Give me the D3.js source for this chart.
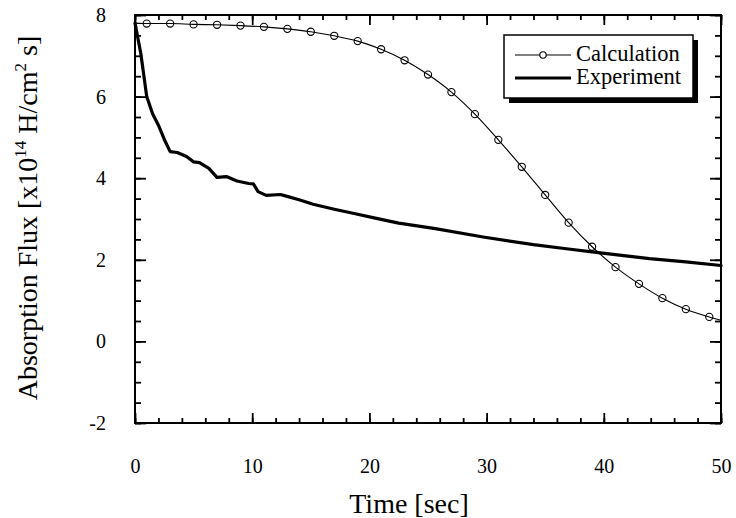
<!DOCTYPE html>
<html>
<head>
<meta charset="utf-8">
<script src="https://cdn.jsdelivr.net/npm/d3@7"></script>
<style>
  html, body { margin: 0; padding: 0; background: #fff; }
  svg text { font-family: "Liberation Serif", "Times New Roman", Times, "DejaVu Serif", "Noto Serif", serif !important; }
</style>
</head>
<body>
<svg id="chart" width="736" height="518"></svg>
<script>
// ---- data ----
const calcTime  = [0, 1, 3, 5, 7, 9, 11, 13, 15, 17, 19, 21, 23, 25, 27, 29, 31, 33, 35, 37, 39, 41, 43, 45, 47, 49, 50];
const calcValue = [7.80, 7.79, 7.79, 7.77, 7.76, 7.74, 7.71, 7.66, 7.59, 7.49, 7.36, 7.16, 6.89, 6.54, 6.11, 5.57, 4.94, 4.28, 3.59, 2.91, 2.32, 1.82, 1.41, 1.06, 0.79, 0.60, 0.52];
const markerTime = [1, 3, 5, 7, 9, 11, 13, 15, 17, 19, 21, 23, 25, 27, 29, 31, 33, 35, 37, 39, 41, 43, 45, 47, 49];

const expTime  = [0, 0.5, 1.0, 1.5, 2.0, 2.5, 3.0, 3.6, 4.4, 5.0, 5.5, 6.3, 7.0, 7.8, 8.7, 9.7, 10.1, 10.5, 11.2, 12.4, 12.9, 14.0, 15.2, 17.0, 18.6, 20.5, 22.5, 25.5, 29.7, 34.0, 36.8, 39.7, 43.9, 47.0, 50];
const expValue = [7.80, 7.05, 6.00, 5.58, 5.30, 4.95, 4.65, 4.63, 4.53, 4.40, 4.38, 4.24, 4.02, 4.04, 3.93, 3.87, 3.86, 3.67, 3.58, 3.60, 3.56, 3.47, 3.36, 3.24, 3.14, 3.02, 2.90, 2.77, 2.56, 2.37, 2.27, 2.17, 2.03, 1.95, 1.86];

const xMajorTicks = [0, 10, 20, 30, 40, 50];
const xMinorTicks = d3.range(0, 50.001, 2);
const yMajorTicks = [-2, 0, 2, 4, 6, 8];
const yMinorTicks = d3.range(-2, 8.001, 0.5);

const seriesNames = ["Calculation", "Experiment"];
const xTitle = "Time [sec]";

// ---- layout ----
const svg = d3.select("#chart");
const L = 135, R = 721, T = 15, B = 423;
const x = d3.scaleLinear().domain([0, 50]).range([L, R]);
const y = d3.scaleLinear().domain([-2, 8]).range([B, T]);

const calc = calcTime.map((t, i) => ({ t, v: calcValue[i] }));
const exp = expTime.map((t, i) => ({ t, v: expValue[i] }));
const markers = calc.filter(d => markerTime.includes(d.t));

// ---- axes (ticks inward on all four sides) ----
function styleAxis(g) {
  g.select(".domain").remove();
  g.attr("font-family", null);
  g.selectAll(".tick line").attr("stroke", "#000").attr("stroke-width", 1.8);
}
const fontTick = 20;
const fmt = d => String(d);

svg.append("g").attr("transform", `translate(0,${B})`)
  .call(d3.axisBottom(x).tickValues(xMinorTicks).tickSize(-5).tickFormat(""))
  .call(styleAxis);
svg.append("g").attr("transform", `translate(0,${B})`)
  .call(d3.axisBottom(x).tickValues(xMajorTicks).tickSize(-10).tickPadding(36).tickFormat(fmt))
  .call(styleAxis)
  .call(g => g.selectAll("text").attr("font-size", fontTick).attr("fill", "#000"));

svg.append("g").attr("transform", `translate(0,${T})`)
  .call(d3.axisTop(x).tickValues(xMinorTicks).tickSize(-5).tickFormat(""))
  .call(styleAxis);
svg.append("g").attr("transform", `translate(0,${T})`)
  .call(d3.axisTop(x).tickValues(xMajorTicks).tickSize(-10).tickFormat(""))
  .call(styleAxis);

svg.append("g").attr("transform", `translate(${L},0)`)
  .call(d3.axisLeft(y).tickValues(yMinorTicks).tickSize(-6).tickFormat(""))
  .call(styleAxis);
svg.append("g").attr("transform", `translate(${L},0)`)
  .call(d3.axisLeft(y).tickValues(yMajorTicks).tickSize(-11).tickPadding(29).tickFormat(fmt))
  .call(styleAxis)
  .call(g => g.selectAll("text").attr("font-size", fontTick).attr("fill", "#000"));

svg.append("g").attr("transform", `translate(${R},0)`)
  .call(d3.axisRight(y).tickValues(yMinorTicks).tickSize(-6).tickFormat(""))
  .call(styleAxis);
svg.append("g").attr("transform", `translate(${R},0)`)
  .call(d3.axisRight(y).tickValues(yMajorTicks).tickSize(-11).tickFormat(""))
  .call(styleAxis);

// frame
svg.append("rect").attr("x", L).attr("y", T).attr("width", R - L).attr("height", B - T)
  .attr("fill", "none").attr("stroke", "#000").attr("stroke-width", 2);

// ---- series ----
const line = d3.line().x(d => x(d.t)).y(d => y(d.v)).curve(d3.curveMonotoneX);

svg.append("path").datum(calc).attr("d", line)
  .attr("fill", "none").attr("stroke", "#000").attr("stroke-width", 1.1);
svg.append("g").selectAll("circle").data(markers).join("circle")
  .attr("cx", d => x(d.t)).attr("cy", d => y(d.v)).attr("r", 3.6)
  .attr("fill", "none").attr("stroke", "#000").attr("stroke-width", 1.1);

svg.append("path").datum(exp).attr("d", d3.line().x(d => x(d.t)).y(d => y(d.v)).curve(d3.curveLinear))
  .attr("fill", "none").attr("stroke", "#000").attr("stroke-width", 3.2)
  .attr("stroke-linejoin", "round").attr("stroke-linecap", "round");

// ---- legend ----
const lg = svg.append("g").attr("transform", "translate(504,35)");
const lw = 189, lh = 63;
lg.append("rect").attr("x", 5).attr("y", 5).attr("width", lw).attr("height", lh).attr("fill", "#000");
lg.append("rect").attr("x", 0).attr("y", 0).attr("width", lw).attr("height", lh)
  .attr("fill", "#fff").attr("stroke", "#000").attr("stroke-width", 1.5);
lg.append("line").attr("x1", 11).attr("x2", 67).attr("y1", 20).attr("y2", 20)
  .attr("stroke", "#000").attr("stroke-width", 1.1);
lg.append("circle").attr("cx", 39).attr("cy", 20).attr("r", 3.2)
  .attr("fill", "#fff").attr("stroke", "#000").attr("stroke-width", 1.1);
lg.append("text").attr("x", 72).attr("y", 26).attr("font-size", 22.5).attr("fill", "#000").text(seriesNames[0]);
lg.append("line").attr("x1", 11).attr("x2", 67).attr("y1", 43).attr("y2", 43)
  .attr("stroke", "#000").attr("stroke-width", 3);
lg.append("text").attr("x", 72).attr("y", 49).attr("font-size", 22.5).attr("fill", "#000").text(seriesNames[1]);

// ---- axis titles ----
svg.append("text").attr("x", 409).attr("y", 513).attr("text-anchor", "middle")
  .attr("font-size", 28).attr("fill", "#000").text(xTitle);

const yt = svg.append("text").attr("transform", "translate(37,218) rotate(-90)")
  .attr("text-anchor", "middle").attr("font-size", 28).attr("fill", "#000");
yt.append("tspan").text("Absorption Flux [x10");
yt.append("tspan").attr("font-size", 17).attr("dy", -11).text("14");
yt.append("tspan").attr("dy", 11).text(" H/cm");
yt.append("tspan").attr("font-size", 17).attr("dy", -11).text("2");
yt.append("tspan").attr("dy", 11).text(" s]");
</script>
</body>
</html>
